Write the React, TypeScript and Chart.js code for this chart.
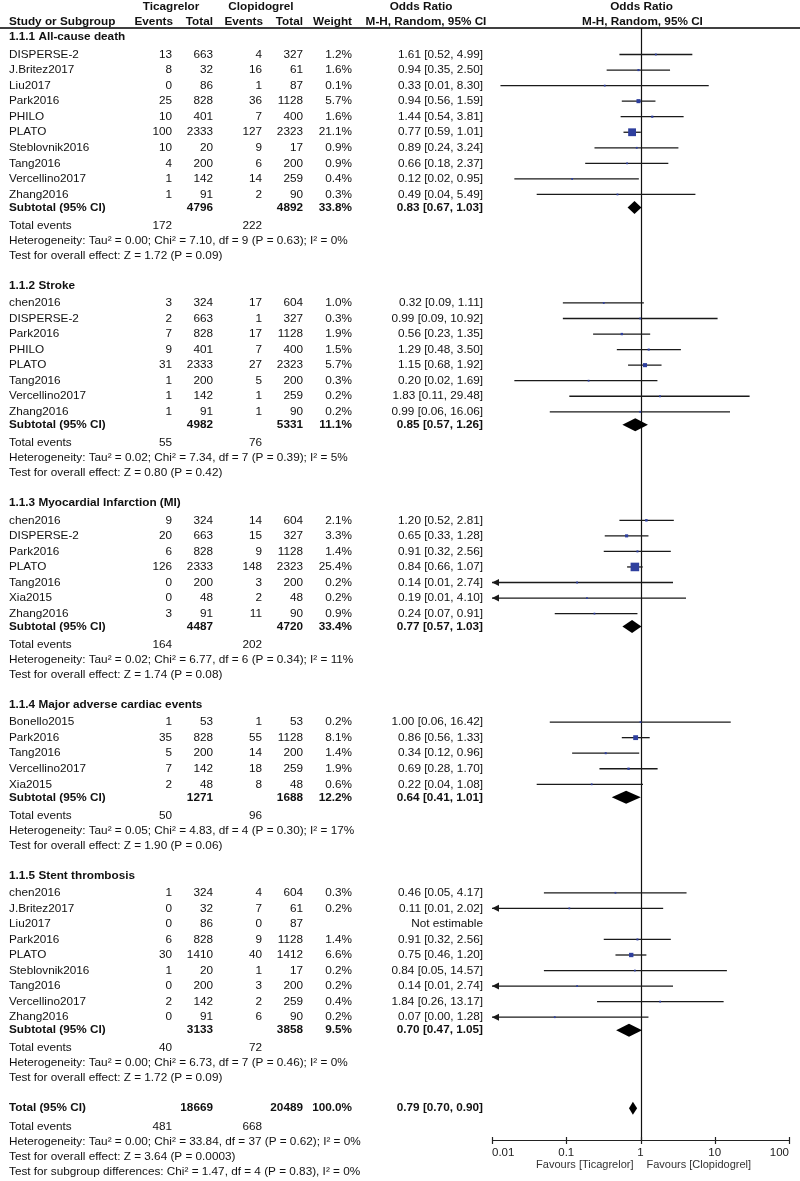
import React, { useEffect, useRef } from 'react';
import { Chart, registerables } from 'chart.js';

Chart.register(...registerables);

// ---------------- DATA ----------------
const sectionTitles = [
  '1.1.1 All-cause death',
  '1.1.2 Stroke',
  '1.1.3 Myocardial Infarction (MI)',
  '1.1.4 Major adverse cardiac events',
  '1.1.5 Stent thrombosis',
];

const studySection = [
  0, 0, 0, 0, 0, 0, 0, 0, 0, 0,
  1, 1, 1, 1, 1, 1, 1, 1,
  2, 2, 2, 2, 2, 2, 2,
  3, 3, 3, 3, 3,
  4, 4, 4, 4, 4, 4, 4, 4, 4,
];

const studyNames = [
  'DISPERSE-2', 'J.Britez2017', 'Liu2017', 'Park2016', 'PHILO', 'PLATO', 'Steblovnik2016', 'Tang2016', 'Vercellino2017', 'Zhang2016',
  'chen2016', 'DISPERSE-2', 'Park2016', 'PHILO', 'PLATO', 'Tang2016', 'Vercellino2017', 'Zhang2016',
  'chen2016', 'DISPERSE-2', 'Park2016', 'PLATO', 'Tang2016', 'Xia2015', 'Zhang2016',
  'Bonello2015', 'Park2016', 'Tang2016', 'Vercellino2017', 'Xia2015',
  'chen2016', 'J.Britez2017', 'Liu2017', 'Park2016', 'PLATO', 'Steblovnik2016', 'Tang2016', 'Vercellino2017', 'Zhang2016',
];

const ticEvents = [
  13, 8, 0, 25, 10, 100, 10, 4, 1, 1,
  3, 2, 7, 9, 31, 1, 1, 1,
  9, 20, 6, 126, 0, 0, 3,
  1, 35, 5, 7, 2,
  1, 0, 0, 6, 30, 1, 0, 2, 0,
];
const ticTotals = [
  663, 32, 86, 828, 401, 2333, 20, 200, 142, 91,
  324, 663, 828, 401, 2333, 200, 142, 91,
  324, 663, 828, 2333, 200, 48, 91,
  53, 828, 200, 142, 48,
  324, 32, 86, 828, 1410, 20, 200, 142, 91,
];
const clopEvents = [
  4, 16, 1, 36, 7, 127, 9, 6, 14, 2,
  17, 1, 17, 7, 27, 5, 1, 1,
  14, 15, 9, 148, 3, 2, 11,
  1, 55, 14, 18, 8,
  4, 7, 0, 9, 40, 1, 3, 2, 6,
];
const clopTotals = [
  327, 61, 87, 1128, 400, 2323, 17, 200, 259, 90,
  604, 327, 1128, 400, 2323, 200, 259, 90,
  604, 327, 1128, 2323, 200, 48, 90,
  53, 1128, 200, 259, 48,
  604, 61, 87, 1128, 1412, 17, 200, 259, 90,
];
const studyWeights: (number | null)[] = [
  1.2, 1.6, 0.1, 5.7, 1.6, 21.1, 0.9, 0.9, 0.4, 0.3,
  1.0, 0.3, 1.9, 1.5, 5.7, 0.3, 0.2, 0.2,
  2.1, 3.3, 1.4, 25.4, 0.2, 0.2, 0.9,
  0.2, 8.1, 1.4, 1.9, 0.6,
  0.3, 0.2, null, 1.4, 6.6, 0.2, 0.2, 0.4, 0.2,
];
const studyOR: (number | null)[] = [
  1.61, 0.94, 0.33, 0.94, 1.44, 0.77, 0.89, 0.66, 0.12, 0.49,
  0.32, 0.99, 0.56, 1.29, 1.15, 0.20, 1.83, 0.99,
  1.20, 0.65, 0.91, 0.84, 0.14, 0.19, 0.24,
  1.00, 0.86, 0.34, 0.69, 0.22,
  0.46, 0.11, null, 0.91, 0.75, 0.84, 0.14, 1.84, 0.07,
];
const studyLow: (number | null)[] = [
  0.52, 0.35, 0.013, 0.56, 0.54, 0.59, 0.24, 0.18, 0.02, 0.04,
  0.09, 0.09, 0.23, 0.48, 0.68, 0.02, 0.11, 0.06,
  0.52, 0.33, 0.32, 0.66, 0.007, 0.009, 0.07,
  0.06, 0.56, 0.12, 0.28, 0.04,
  0.05, 0.006, null, 0.32, 0.46, 0.05, 0.007, 0.26, 0.004,
];
const studyHigh: (number | null)[] = [
  4.99, 2.50, 8.30, 1.59, 3.81, 1.01, 3.24, 2.37, 0.95, 5.49,
  1.11, 10.92, 1.35, 3.50, 1.92, 1.69, 29.48, 16.06,
  2.81, 1.28, 2.56, 1.07, 2.74, 4.10, 0.91,
  16.42, 1.33, 0.96, 1.70, 1.08,
  4.17, 2.02, null, 2.56, 1.20, 14.57, 2.74, 13.17, 1.28,
];

const subTicTotals = [4796, 4982, 4487, 1271, 3133];
const subClopTotals = [4892, 5331, 4720, 1688, 3858];
const subWeights = [33.8, 11.1, 33.4, 12.2, 9.5];
const subOR = [0.83, 0.85, 0.77, 0.64, 0.70];
const subLow = [0.67, 0.57, 0.57, 0.41, 0.47];
const subHigh = [1.03, 1.26, 1.03, 1.01, 1.05];
const subTicEvents = [172, 55, 164, 50, 40];
const subClopEvents = [222, 76, 202, 96, 72];
const subTau2 = ['0.00', '0.02', '0.02', '0.05', '0.00'];
const subChi2 = ['7.10', '7.34', '6.77', '4.83', '6.73'];
const subDf = [9, 7, 6, 4, 7];
const subHetP = ['0.63', '0.39', '0.34', '0.30', '0.46'];
const subI2 = [0, 5, 11, 17, 0];
const subZ = ['1.72', '0.80', '1.74', '1.90', '1.72'];
const subZP = ['0.09', '0.42', '0.08', '0.06', '0.09'];

const totalTicTotal = 18669;
const totalClopTotal = 20489;
const totalWeight = 100.0;
const totalOR = 0.79;
const totalLow = 0.70;
const totalHigh = 0.90;
const totalTicEvents = 481;
const totalClopEvents = 668;
const totalHetText = 'Heterogeneity: Tau² = 0.00; Chi² = 33.84, df = 37 (P = 0.62); I² = 0%';
const totalEffectText = 'Test for overall effect: Z = 3.64 (P = 0.0003)';
const subgroupDiffText = 'Test for subgroup differences: Chi² = 1.47, df = 4 (P = 0.83), I² = 0%';

const axisTicks = [0.01, 0.1, 1, 10, 100];
const axisTickLabels = ['0.01', '0.1', '1', '10', '100'];
const favoursLeft = 'Favours [Ticagrelor]';
const favoursRight = 'Favours [Clopidogrel]';

// ---------------- LAYOUT / STYLE ----------------
const W = 800;
const H = 1181;
const PLOT_LEFT = 492;
const PLOT_RIGHT = 789;
const AXIS_Y = 1140;
const FONT = '"Liberation Sans", Arial, Helvetica, sans-serif';
const FS = 11.75;
const TEXT = '#111';
const SQUARE = '#2e3f9e';

const HEAD1_Y = 7;
const HEAD2_Y = 21.5;
const RULE_Y = 28;
const TITLE1_Y = 37;
const GAP_TITLE = 17.5;
const GAP_STUDY = 15.55;
const GAP_SUB = 13;
const GAP_EVENTS = 18;
const GAP_NOTE = 15;
const GAP_SECTION = 30;
const GAP_TOTAL_EVENTS = 19;

const COL_NAME = 9;
const COL_TIC_EV = 172;
const COL_TIC_TOT = 213;
const COL_CLOP_EV = 262;
const COL_CLOP_TOT = 303;
const COL_WEIGHT = 352;
const COL_OR = 483;

type Row = { kind: string; y: number; idx: number };

function buildRows(): Row[] {
  const rows: Row[] = [];
  let y = TITLE1_Y;
  for (let s = 0; s < sectionTitles.length; s++) {
    rows.push({ kind: 'title', y, idx: s });
    y += GAP_TITLE;
    const ids = studyNames.map((_, i) => i).filter((i) => studySection[i] === s);
    ids.forEach((i, k) => {
      if (k > 0) y += GAP_STUDY;
      rows.push({ kind: 'study', y, idx: i });
    });
    y += GAP_SUB;
    rows.push({ kind: 'subtotal', y, idx: s });
    y += GAP_EVENTS;
    rows.push({ kind: 'events', y, idx: s });
    y += GAP_NOTE;
    rows.push({ kind: 'het', y, idx: s });
    y += GAP_NOTE;
    rows.push({ kind: 'effect', y, idx: s });
    y += GAP_SECTION;
  }
  rows.push({ kind: 'total', y, idx: 0 });
  y += GAP_TOTAL_EVENTS;
  rows.push({ kind: 'totalEvents', y, idx: 0 });
  y += GAP_NOTE;
  rows.push({ kind: 'totalHet', y, idx: 0 });
  y += GAP_NOTE;
  rows.push({ kind: 'totalEffect', y, idx: 0 });
  y += GAP_NOTE;
  rows.push({ kind: 'subgroup', y, idx: 0 });
  return rows;
}

const ciText = (o: number, l: number, h: number) => `${o.toFixed(2)} [${l.toFixed(2)}, ${h.toFixed(2)}]`;

function txt(ctx: CanvasRenderingContext2D, s: string, x: number, y: number, align: CanvasTextAlign, bold = false, size = FS, color = TEXT) {
  ctx.font = `${bold ? 'bold ' : ''}${size}px ${FONT}`;
  ctx.textAlign = align;
  ctx.textBaseline = 'middle';
  ctx.fillStyle = color;
  ctx.fillText(s, x, y);
}

export default function App() {
  const ref = useRef<HTMLCanvasElement>(null);

  useEffect(() => {
    document.body.style.margin = '0';
    const canvas = ref.current;
    if (!canvas) return;
    const rows = buildRows();

    const datasets: any[] = [];
    const squarePts: any[] = [];
    const squareR: number[] = [];
    rows.forEach((r) => {
      if (r.kind !== 'study') return;
      const o = studyOR[r.idx];
      const l = studyLow[r.idx];
      const h = studyHigh[r.idx];
      const w = studyWeights[r.idx];
      if (o == null || l == null || h == null || w == null) return;
      datasets.push({
        type: 'scatter',
        data: [{ x: l, y: r.y }, { x: h, y: r.y }],
        showLine: true,
        borderColor: '#1a1a1a',
        borderWidth: 1.3,
        pointRadius: 0,
        fill: false,
        order: 2,
      });
      squarePts.push({ x: o, y: r.y });
      const side = Math.max(1.8, 1.7 * Math.sqrt(w));
      squareR.push(side / Math.SQRT2);
    });
    datasets.push({
      type: 'scatter',
      data: squarePts,
      pointStyle: 'rect',
      pointRadius: squareR,
      backgroundColor: SQUARE,
      borderWidth: 0,
      order: 0,
    });

    const forestPlugin = {
      id: 'forest',
      beforeDatasetsDraw(chart: any) {
        const ctx = chart.ctx as CanvasRenderingContext2D;
        const xs = chart.scales.x;
        const ys = chart.scales.y;
        const x1 = Math.round(xs.getPixelForValue(1)) + 0.5;
        ctx.save();
        ctx.strokeStyle = '#111';
        ctx.lineWidth = 1.2;
        ctx.beginPath();
        ctx.moveTo(x1, ys.getPixelForValue(RULE_Y));
        ctx.lineTo(x1, chart.chartArea.bottom);
        ctx.stroke();
        ctx.restore();
      },
      afterDatasetsDraw(chart: any) {
        const ctx = chart.ctx as CanvasRenderingContext2D;
        const xs = chart.scales.x;
        const ys = chart.scales.y;
        const area = chart.chartArea;
        ctx.save();
        const diamond = (o: number, l: number, h: number, y: number) => {
          const py = ys.getPixelForValue(y);
          ctx.beginPath();
          ctx.moveTo(xs.getPixelForValue(l), py);
          ctx.lineTo(xs.getPixelForValue(o), py - 6.5);
          ctx.lineTo(xs.getPixelForValue(h), py);
          ctx.lineTo(xs.getPixelForValue(o), py + 6.5);
          ctx.closePath();
          ctx.fillStyle = '#000';
          ctx.fill();
        };
        rows.forEach((r) => {
          if (r.kind === 'subtotal') diamond(subOR[r.idx], subLow[r.idx], subHigh[r.idx], r.y);
          if (r.kind === 'total') diamond(totalOR, totalLow, totalHigh, r.y);
          if (r.kind === 'study') {
            const l = studyLow[r.idx];
            if (l != null && l < xs.min) {
              const py = ys.getPixelForValue(r.y);
              ctx.beginPath();
              ctx.moveTo(area.left, py);
              ctx.lineTo(area.left + 7, py - 3.5);
              ctx.lineTo(area.left + 7, py + 3.5);
              ctx.closePath();
              ctx.fillStyle = '#1a1a1a';
              ctx.fill();
            }
          }
        });
        const ay = Math.round(area.bottom) + 0.5;
        ctx.strokeStyle = '#222';
        ctx.lineWidth = 1.2;
        ctx.beginPath();
        ctx.moveTo(xs.getPixelForValue(axisTicks[0]), ay);
        ctx.lineTo(xs.getPixelForValue(axisTicks[axisTicks.length - 1]), ay);
        axisTicks.forEach((v) => {
          const px = Math.round(xs.getPixelForValue(v)) + 0.5;
          ctx.moveTo(px, ay - 3.5);
          ctx.lineTo(px, ay + 3.5);
        });
        ctx.stroke();
        ctx.restore();
      },
      afterDraw(chart: any) {
        const ctx = chart.ctx as CanvasRenderingContext2D;
        const xs = chart.scales.x;
        const ys = chart.scales.y;
        const Y = (v: number) => ys.getPixelForValue(v);
        const x1 = xs.getPixelForValue(1);
        ctx.save();
        txt(ctx, 'Ticagrelor', 171, Y(HEAD1_Y), 'center', true);
        txt(ctx, 'Clopidogrel', 261, Y(HEAD1_Y), 'center', true);
        txt(ctx, 'Odds Ratio', 421, Y(HEAD1_Y), 'center', true);
        txt(ctx, 'Odds Ratio', x1 + 1, Y(HEAD1_Y), 'center', true);
        txt(ctx, 'Study or Subgroup', COL_NAME, Y(HEAD2_Y), 'left', true);
        txt(ctx, 'Events', COL_TIC_EV + 1, Y(HEAD2_Y), 'right', true);
        txt(ctx, 'Total', COL_TIC_TOT, Y(HEAD2_Y), 'right', true);
        txt(ctx, 'Events', COL_CLOP_EV + 1, Y(HEAD2_Y), 'right', true);
        txt(ctx, 'Total', COL_CLOP_TOT, Y(HEAD2_Y), 'right', true);
        txt(ctx, 'Weight', COL_WEIGHT, Y(HEAD2_Y), 'right', true);
        txt(ctx, 'M-H, Random, 95% CI', 426, Y(HEAD2_Y), 'center', true);
        txt(ctx, 'M-H, Random, 95% CI', x1 + 2, Y(HEAD2_Y), 'center', true);
        ctx.strokeStyle = '#000';
        ctx.lineWidth = 1.5;
        ctx.beginPath();
        ctx.moveTo(0, Y(RULE_Y));
        ctx.lineTo(W, Y(RULE_Y));
        ctx.stroke();

        rows.forEach((r) => {
          const y = Y(r.y);
          const i = r.idx;
          switch (r.kind) {
            case 'title':
              txt(ctx, sectionTitles[i], COL_NAME, y, 'left', true);
              break;
            case 'study': {
              txt(ctx, studyNames[i], COL_NAME, y, 'left');
              txt(ctx, String(ticEvents[i]), COL_TIC_EV, y, 'right');
              txt(ctx, String(ticTotals[i]), COL_TIC_TOT, y, 'right');
              txt(ctx, String(clopEvents[i]), COL_CLOP_EV, y, 'right');
              txt(ctx, String(clopTotals[i]), COL_CLOP_TOT, y, 'right');
              const w = studyWeights[i];
              const o = studyOR[i];
              const l = studyLow[i];
              const h = studyHigh[i];
              if (w != null) txt(ctx, `${w.toFixed(1)}%`, COL_WEIGHT, y, 'right');
              if (o != null && l != null && h != null) txt(ctx, ciText(o, l, h), COL_OR, y, 'right');
              else txt(ctx, 'Not estimable', COL_OR, y, 'right');
              break;
            }
            case 'subtotal':
              txt(ctx, 'Subtotal (95% CI)', COL_NAME, y, 'left', true);
              txt(ctx, String(subTicTotals[i]), COL_TIC_TOT, y, 'right', true);
              txt(ctx, String(subClopTotals[i]), COL_CLOP_TOT, y, 'right', true);
              txt(ctx, `${subWeights[i].toFixed(1)}%`, COL_WEIGHT, y, 'right', true);
              txt(ctx, ciText(subOR[i], subLow[i], subHigh[i]), COL_OR, y, 'right', true);
              break;
            case 'events':
              txt(ctx, 'Total events', COL_NAME, y, 'left');
              txt(ctx, String(subTicEvents[i]), COL_TIC_EV, y, 'right');
              txt(ctx, String(subClopEvents[i]), COL_CLOP_EV, y, 'right');
              break;
            case 'het':
              txt(ctx, `Heterogeneity: Tau² = ${subTau2[i]}; Chi² = ${subChi2[i]}, df = ${subDf[i]} (P = ${subHetP[i]}); I² = ${subI2[i]}%`, COL_NAME, y, 'left');
              break;
            case 'effect':
              txt(ctx, `Test for overall effect: Z = ${subZ[i]} (P = ${subZP[i]})`, COL_NAME, y, 'left');
              break;
            case 'total':
              txt(ctx, 'Total (95% CI)', COL_NAME, y, 'left', true);
              txt(ctx, String(totalTicTotal), COL_TIC_TOT, y, 'right', true);
              txt(ctx, String(totalClopTotal), COL_CLOP_TOT, y, 'right', true);
              txt(ctx, `${totalWeight.toFixed(1)}%`, COL_WEIGHT, y, 'right', true);
              txt(ctx, ciText(totalOR, totalLow, totalHigh), COL_OR, y, 'right', true);
              break;
            case 'totalEvents':
              txt(ctx, 'Total events', COL_NAME, y, 'left');
              txt(ctx, String(totalTicEvents), COL_TIC_EV, y, 'right');
              txt(ctx, String(totalClopEvents), COL_CLOP_EV, y, 'right');
              break;
            case 'totalHet':
              txt(ctx, totalHetText, COL_NAME, y, 'left');
              break;
            case 'totalEffect':
              txt(ctx, totalEffectText, COL_NAME, y, 'left');
              break;
            case 'subgroup':
              txt(ctx, subgroupDiffText, COL_NAME, y, 'left');
              break;
          }
        });

        txt(ctx, favoursLeft, x1 - 7, 1165, 'right', false, 11, '#333');
        txt(ctx, favoursRight, x1 + 6, 1165, 'left', false, 11, '#333');
        ctx.restore();
      },
    };

    const chart = new Chart(canvas, {
      type: 'scatter',
      data: { datasets },
      options: {
        animation: false,
        responsive: false,
        devicePixelRatio: 1,
        events: [],
        layout: { autoPadding: false, padding: { left: PLOT_LEFT, right: W - PLOT_RIGHT, top: 0, bottom: 0 } },
        plugins: { legend: { display: false }, tooltip: { enabled: false } },
        scales: {
          x: {
            type: 'logarithmic',
            min: axisTicks[0],
            max: axisTicks[axisTicks.length - 1],
            position: 'bottom',
            grid: { display: false, drawTicks: false },
            border: { display: false },
            afterBuildTicks: (s: any) => {
              s.ticks = axisTicks.map((v) => ({ value: v }));
            },
            afterFit: (s: any) => {
              s.height = H - AXIS_Y;
            },
            ticks: {
              autoSkip: false,
              maxRotation: 0,
              align: 'inner',
              padding: 6,
              color: '#222',
              font: { family: FONT, size: 11.5 },
              callback: (_v: any, i: number) => axisTickLabels[i],
            },
          },
          y: { type: 'linear', min: 0, max: AXIS_Y, reverse: true, display: false },
        },
      } as any,
      plugins: [forestPlugin],
    });
    return () => chart.destroy();
  }, []);

  return (
    <div style={{ position: 'absolute', left: 0, top: 0, width: W, height: H, background: '#fff' }}>
      <canvas ref={ref} width={W} height={H} style={{ display: 'block', width: W, height: H }} />
    </div>
  );
}
